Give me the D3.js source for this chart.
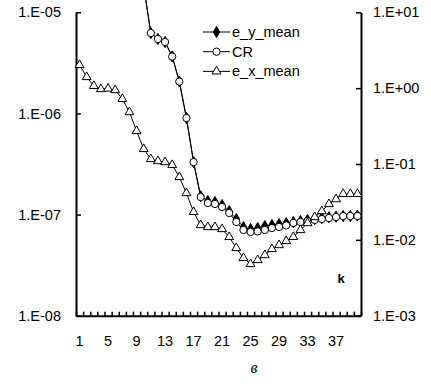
<!DOCTYPE html>
<html>
<head>
<meta charset="utf-8">
<script src="https://cdn.jsdelivr.net/npm/d3@7"></script>
<style>
  body { margin: 0; background: #fff; }
  svg { display: block; font-family: Arial, "Liberation Sans", sans-serif; }
</style>
</head>
<body>
<div id="chart"></div>
<script>
const W = 431, H = 388;

// k = 1..40
const k = d3.range(1, 41);
// left axis series
const e_y_mean = [null, null, null, null, null, null, null, null, null, 1.82e-5,
  6.24e-6, 5.44e-6, 5.08e-6, 3.66e-6, 2.07e-6, 9.01e-7, 3.30e-7, 1.52e-7, 1.36e-7, 1.33e-7,
  1.24e-7, 1.08e-7, 9.03e-8, 7.52e-8, 7.19e-8, 7.35e-8, 7.69e-8, 7.87e-8, 8.05e-8, 8.24e-8,
  8.43e-8, 8.63e-8, 8.83e-8, 9.03e-8, 9.23e-8, 9.44e-8, 9.55e-8, 9.66e-8, 9.66e-8, 9.77e-8];
const e_x_mean = [3.01e-6, 2.29e-6, 1.87e-6, 1.74e-6, 1.76e-6, 1.70e-6, 1.39e-6, 1.03e-6, 6.70e-7, 4.45e-7,
  3.54e-7, 3.38e-7, 3.30e-7, 3.09e-7, 2.35e-7, 1.63e-7, 1.06e-7, 7.87e-8, 7.52e-8, 7.52e-8,
  7.19e-8, 6.00e-8, 4.67e-8, 3.72e-8, 3.24e-8, 3.55e-8, 3.97e-8, 4.56e-8, 4.99e-8, 5.47e-8,
  6.00e-8, 7.03e-8, 8.24e-8, 9.44e-8, 1.08e-7, 1.27e-7, 1.42e-7, 1.60e-7, 1.60e-7, 1.60e-7];
// right axis series
const CR = [null, null, null, null, null, null, null, null, null, 22.2,
  5.33, 4.45, 4.06, 2.61, 1.22, 0.404, 0.106, 0.0367, 0.0306, 0.0297,
  0.0271, 0.0226, 0.0172, 0.0135, 0.0127, 0.0129, 0.0135, 0.0143, 0.0148, 0.0155,
  0.0167, 0.0172, 0.0177, 0.0183, 0.0188, 0.0194, 0.0200, 0.0206, 0.0206, 0.0206];

const leftTicks = [1e-5, 1e-6, 1e-7, 1e-8];
const rightTicks = [10, 1, 0.1, 0.01, 0.001];
const xLabels = [1, 5, 9, 13, 17, 21, 25, 29, 33, 37];

const plot = {left: 76, right: 361, top: 12.3, bottom: 315.7};

const svg = d3.select("#chart").append("svg")
    .attr("width", W)
    .attr("height", H);

const x = d3.scaleBand().domain(k).range([plot.left, plot.right]).padding(0);
const xc = d => x(d) + x.bandwidth() / 2;
const xEdge = d3.scaleLinear().domain([0.5, 40.5]).range([plot.left, plot.right]);
const yL = d3.scaleLog().domain([1e-8, 1e-5]).range([plot.bottom, plot.top]);
const yR = d3.scaleLog().domain([1e-3, 10]).range([plot.bottom, plot.top]);

const fmt = v => {
    const e = Math.round(Math.log10(v));
    return "1.E" + (e < 0 ? "-" : "+") + String(Math.abs(e)).padStart(2, "0");
};

// axes
const gL = svg.append("g")
    .attr("transform", `translate(${plot.left},0)`)
    .call(d3.axisLeft(yL).tickValues(leftTicks).tickFormat(fmt)
        .tickSizeInner(-5).tickSizeOuter(0).tickPadding(15));
const gR = svg.append("g")
    .attr("transform", `translate(${plot.right},0)`)
    .call(d3.axisRight(yR).tickValues(rightTicks).tickFormat(fmt)
        .tickSizeInner(-5).tickSizeOuter(0).tickPadding(12));
const gB = svg.append("g")
    .attr("transform", `translate(0,${plot.bottom})`)
    .call(d3.axisBottom(xEdge).tickValues(d3.range(0.5, 41, 1)).tickFormat("")
        .tickSizeInner(-4).tickSizeOuter(0));
const gBL = svg.append("g")
    .attr("transform", `translate(0,${plot.bottom})`)
    .call(d3.axisBottom(x).tickValues(xLabels).tickSize(0).tickPadding(20));
gBL.select(".domain").remove();

[gL, gR, gB].forEach(g => {
    g.select(".domain").attr("stroke", "#000").attr("stroke-width", 2);
    g.selectAll(".tick line").attr("stroke", "#000").attr("stroke-width", 1.5);
});
[gL, gR, gBL].forEach(g => g.selectAll("text")
    .attr("font-size", 14.5).attr("fill", "#000")
    .attr("font-family", "Arial, 'Liberation Sans', sans-serif"));

// series
const series = [
    {name: "e_y_mean", values: e_y_mean, y: yL, marker: "diamond"},
    {name: "CR", values: CR, y: yR, marker: "circle"},
    {name: "e_x_mean", values: e_x_mean, y: yL, marker: "triangle"}
];

const symbolPath = {
    diamond: d3.symbol().type(d3.symbolDiamond).size(36)(),
    circle: d3.symbol().type(d3.symbolCircle).size(42)(),
    triangle: d3.symbol().type(d3.symbolTriangle).size(34)()
};

function drawMarker(g, type, px, py) {
    g.append("path")
        .attr("d", symbolPath[type])
        .attr("transform", `translate(${px},${py})`)
        .attr("fill", type === "diamond" ? "#000" : "#fff")
        .attr("stroke", "#000")
        .attr("stroke-width", 1);
}

series.forEach(s => {
    const pts = k.map((kk, i) => ({k: kk, v: s.values[i]})).filter(p => p.v != null);
    const line = d3.line().x(p => xc(p.k)).y(p => s.y(p.v));
    const g = svg.append("g");
    g.append("path")
        .attr("d", line(pts))
        .attr("fill", "none")
        .attr("stroke", "#000")
        .attr("stroke-width", 1);
    pts.forEach(p => drawMarker(g, s.marker, xc(p.k), s.y(p.v)));
});

// legend
const legend = svg.append("g").attr("transform", "translate(203,32)");
series.forEach((s, i) => {
    const row = legend.append("g").attr("transform", `translate(0,${i * 19.7})`);
    row.append("line").attr("x1", 0).attr("x2", 27)
        .attr("stroke", "#000").attr("stroke-width", 1);
    drawMarker(row, s.marker, 13.5, 0);
    row.append("text")
        .attr("x", 29).attr("y", 5)
        .attr("font-size", 14.5)
        .text(s.name);
});

// axis title and caption
svg.append("text")
    .attr("x", 341).attr("y", 283)
    .attr("text-anchor", "middle")
    .attr("font-size", 13)
    .attr("font-weight", "bold")
    .text("k");

svg.append("text")
    .attr("x", 254).attr("y", 373)
    .attr("text-anchor", "middle")
    .attr("font-size", 16)
    .attr("font-style", "italic")
    .attr("font-family", "'Liberation Serif', 'DejaVu Serif', serif")
    .text("в");
</script>
</body>
</html>
